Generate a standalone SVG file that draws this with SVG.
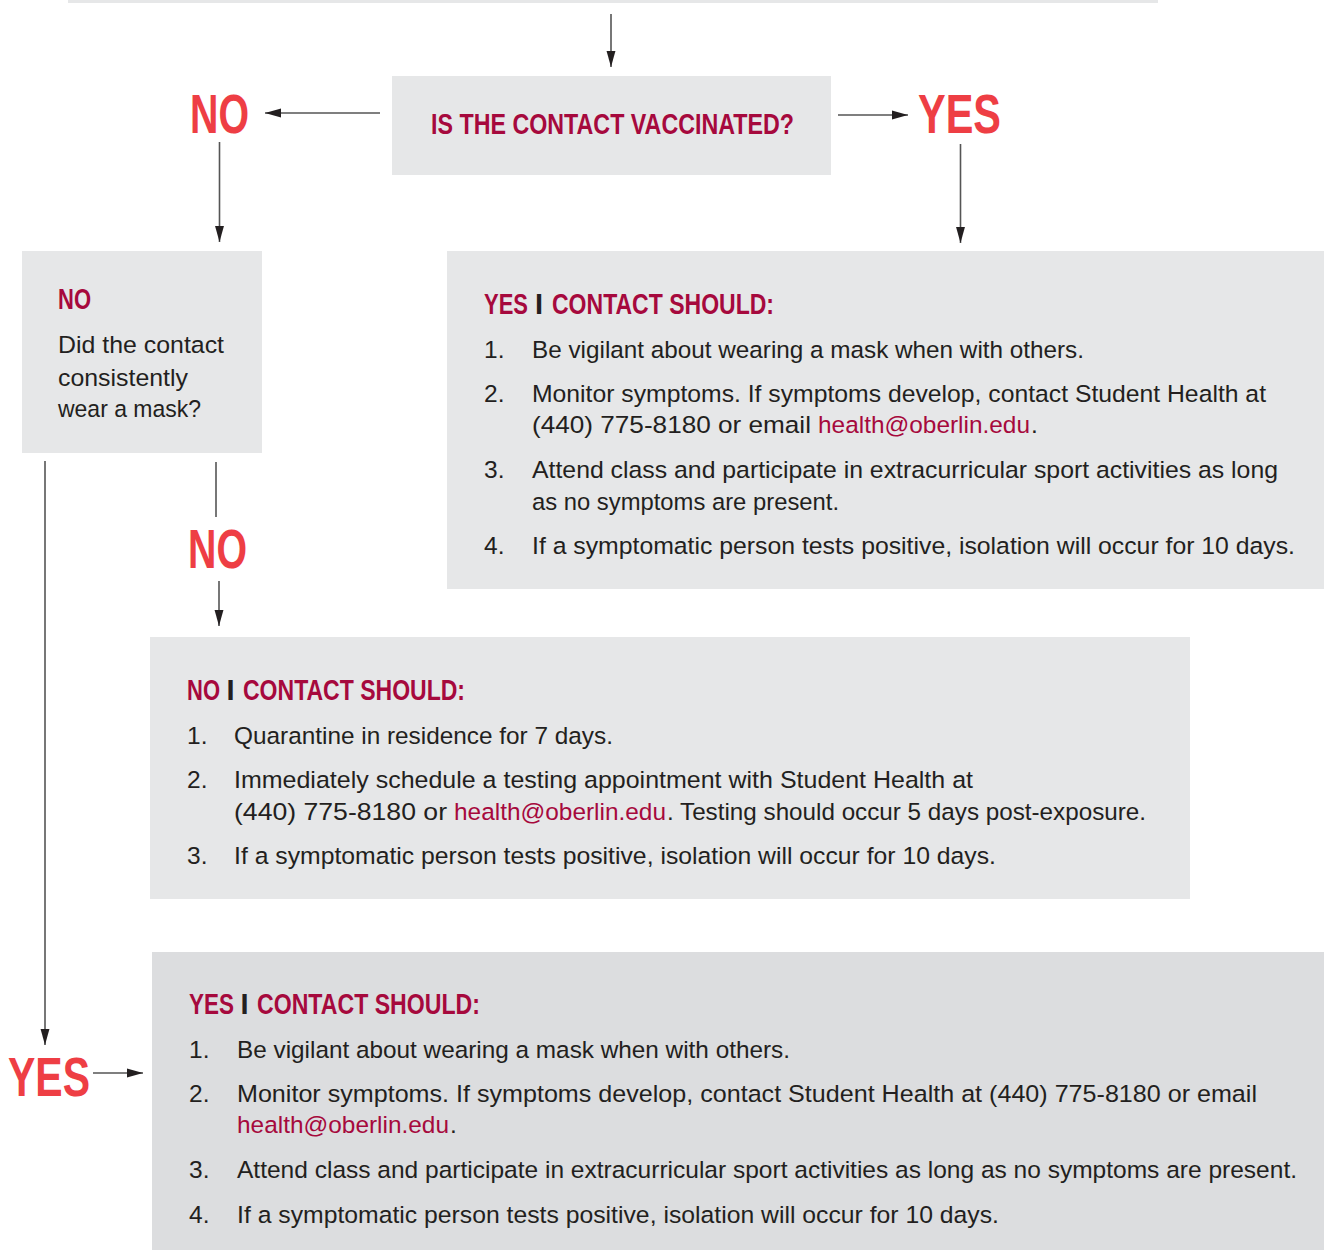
<svg xmlns="http://www.w3.org/2000/svg" width="1324" height="1250" viewBox="0 0 1324 1250">
<defs>
<style>
.box{fill:#e6e7e8}
.box2{fill:#dcdddf}
.q{font-family:"Liberation Sans Narrow","Liberation Sans",Arial,sans-serif;font-weight:bold;font-size:29px;fill:#a6093d}
.big{font-family:"Liberation Sans Narrow","Liberation Sans",Arial,sans-serif;font-weight:bold;font-size:55px;fill:#ee3e44}
.hd{font-family:"Liberation Sans Narrow","Liberation Sans",Arial,sans-serif;font-weight:bold;font-size:29px;fill:#a6093d}
.bar{fill:#231f20}
.tx{font-family:"Liberation Sans","Arial",sans-serif;font-size:24.5px;fill:#231f20}
.lnk{fill:#a6093d}
.ln{stroke:#555;stroke-width:1.6;fill:none}
</style>
<marker id="ah" viewBox="0 0 18 10" refX="18" refY="5" markerWidth="16" markerHeight="10" markerUnits="userSpaceOnUse" orient="auto">
<path d="M0,0 L18,5 L0,10 Z" fill="#231f20"/>
</marker>
</defs>

<rect x="68" y="0" width="1090" height="3" class="box"/>

<g id="connectors">
<line class="ln" x1="611" y1="14" x2="611" y2="67" marker-end="url(#ah)"/>
<line class="ln" x1="380" y1="113" x2="265" y2="113" marker-end="url(#ah)"/>
<line class="ln" x1="838" y1="115" x2="908" y2="115" marker-end="url(#ah)"/>
<line class="ln" x1="219.5" y1="142" x2="219.5" y2="242" marker-end="url(#ah)"/>
<line class="ln" x1="960.5" y1="144" x2="960.5" y2="243" marker-end="url(#ah)"/>
<line class="ln" x1="45" y1="461" x2="45" y2="1045" marker-end="url(#ah)"/>
<line class="ln" x1="216" y1="462" x2="216" y2="517"/>
<line class="ln" x1="219" y1="581" x2="219" y2="626" marker-end="url(#ah)"/>
<line class="ln" x1="93" y1="1073" x2="143" y2="1073" marker-end="url(#ah)"/>
</g>

<g id="question">
<rect x="392" y="76" width="439" height="99" class="box"/>
<text class="q" x="431" y="134" textLength="363" lengthAdjust="spacingAndGlyphs">IS THE CONTACT VACCINATED?</text>
</g>

<g id="label-no-top"><text class="big" x="190" y="133" textLength="59" lengthAdjust="spacingAndGlyphs">NO</text></g>
<g id="label-yes-top"><text class="big" x="918" y="133" textLength="83" lengthAdjust="spacingAndGlyphs">YES</text></g>

<g id="mask-question">
<rect x="22" y="251" width="240" height="202" class="box"/>
<text class="hd" x="58" y="309" textLength="33" lengthAdjust="spacingAndGlyphs">NO</text>
<text class="tx" x="58" y="353" textLength="166" lengthAdjust="spacingAndGlyphs">Did the contact</text>
<text class="tx" x="58" y="386" textLength="130" lengthAdjust="spacingAndGlyphs">consistently</text>
<text class="tx" x="58" y="417" textLength="143" lengthAdjust="spacingAndGlyphs">wear a mask?</text>
</g>

<g id="yes-vaccinated">
<rect x="447" y="251" width="877" height="338" class="box"/>
<text class="hd" x="484" y="314" textLength="44" lengthAdjust="spacingAndGlyphs">YES</text>
<text class="hd bar" x="535" y="314">I</text>
<text class="hd" x="552" y="314" textLength="222" lengthAdjust="spacingAndGlyphs">CONTACT SHOULD:</text>
<text class="tx" x="484" y="358">1.</text>
<text class="tx" x="532" y="358" textLength="552" lengthAdjust="spacingAndGlyphs">Be vigilant about wearing a mask when with others.</text>
<text class="tx" x="484" y="402">2.</text>
<text class="tx" x="532" y="402" textLength="734" lengthAdjust="spacingAndGlyphs">Monitor symptoms. If symptoms develop, contact Student Health at</text>
<text class="tx" x="532" y="433" textLength="279" lengthAdjust="spacingAndGlyphs">(440) 775-8180 or email</text>
<text class="tx lnk" x="818" y="433" textLength="212" lengthAdjust="spacingAndGlyphs">health@oberlin.edu</text>
<text class="tx" x="1031" y="433">.</text>
<text class="tx" x="484" y="478">3.</text>
<text class="tx" x="532" y="478" textLength="746" lengthAdjust="spacingAndGlyphs">Attend class and participate in extracurricular sport activities as long</text>
<text class="tx" x="532" y="510" textLength="307" lengthAdjust="spacingAndGlyphs">as no symptoms are present.</text>
<text class="tx" x="484" y="554">4.</text>
<text class="tx" x="532" y="554" textLength="763" lengthAdjust="spacingAndGlyphs">If a symptomatic person tests positive, isolation will occur for 10 days.</text>
</g>

<g id="label-no-mid"><text class="big" x="188" y="568" textLength="59" lengthAdjust="spacingAndGlyphs">NO</text></g>

<g id="no-mask">
<rect x="150" y="637" width="1040" height="262" class="box"/>
<text class="hd" x="187" y="700" textLength="33" lengthAdjust="spacingAndGlyphs">NO</text>
<text class="hd bar" x="226.5" y="700">I</text>
<text class="hd" x="243" y="700" textLength="222" lengthAdjust="spacingAndGlyphs">CONTACT SHOULD:</text>
<text class="tx" x="187" y="744">1.</text>
<text class="tx" x="234" y="744" textLength="379" lengthAdjust="spacingAndGlyphs">Quarantine in residence for 7 days.</text>
<text class="tx" x="187" y="788">2.</text>
<text class="tx" x="234" y="788" textLength="739" lengthAdjust="spacingAndGlyphs">Immediately schedule a testing appointment with Student Health at</text>
<text class="tx" x="234" y="820" textLength="213" lengthAdjust="spacingAndGlyphs">(440) 775-8180 or</text>
<text class="tx lnk" x="454" y="820" textLength="212" lengthAdjust="spacingAndGlyphs">health@oberlin.edu</text>
<text class="tx" x="667" y="820" textLength="479" lengthAdjust="spacingAndGlyphs">. Testing should occur 5 days post-exposure.</text>
<text class="tx" x="187" y="864">3.</text>
<text class="tx" x="234" y="864" textLength="762" lengthAdjust="spacingAndGlyphs">If a symptomatic person tests positive, isolation will occur for 10 days.</text>
</g>

<g id="label-yes-bottom"><text class="big" x="8" y="1096" textLength="82" lengthAdjust="spacingAndGlyphs">YES</text></g>

<g id="yes-mask">
<rect x="152" y="952" width="1172" height="298" class="box2"/>
<text class="hd" x="189" y="1014" textLength="45" lengthAdjust="spacingAndGlyphs">YES</text>
<text class="hd bar" x="240.5" y="1014">I</text>
<text class="hd" x="257" y="1014" textLength="223" lengthAdjust="spacingAndGlyphs">CONTACT SHOULD:</text>
<text class="tx" x="189" y="1058">1.</text>
<text class="tx" x="237" y="1058" textLength="553" lengthAdjust="spacingAndGlyphs">Be vigilant about wearing a mask when with others.</text>
<text class="tx" x="189" y="1102">2.</text>
<text class="tx" x="237" y="1102" textLength="1020" lengthAdjust="spacingAndGlyphs">Monitor symptoms. If symptoms develop, contact Student Health at (440) 775-8180 or email</text>
<text class="tx lnk" x="237" y="1133" textLength="212" lengthAdjust="spacingAndGlyphs">health@oberlin.edu</text>
<text class="tx" x="450" y="1133">.</text>
<text class="tx" x="189" y="1178">3.</text>
<text class="tx" x="237" y="1178" textLength="1060" lengthAdjust="spacingAndGlyphs">Attend class and participate in extracurricular sport activities as long as no symptoms are present.</text>
<text class="tx" x="189" y="1223">4.</text>
<text class="tx" x="237" y="1223" textLength="762" lengthAdjust="spacingAndGlyphs">If a symptomatic person tests positive, isolation will occur for 10 days.</text>
</g>
</svg>
